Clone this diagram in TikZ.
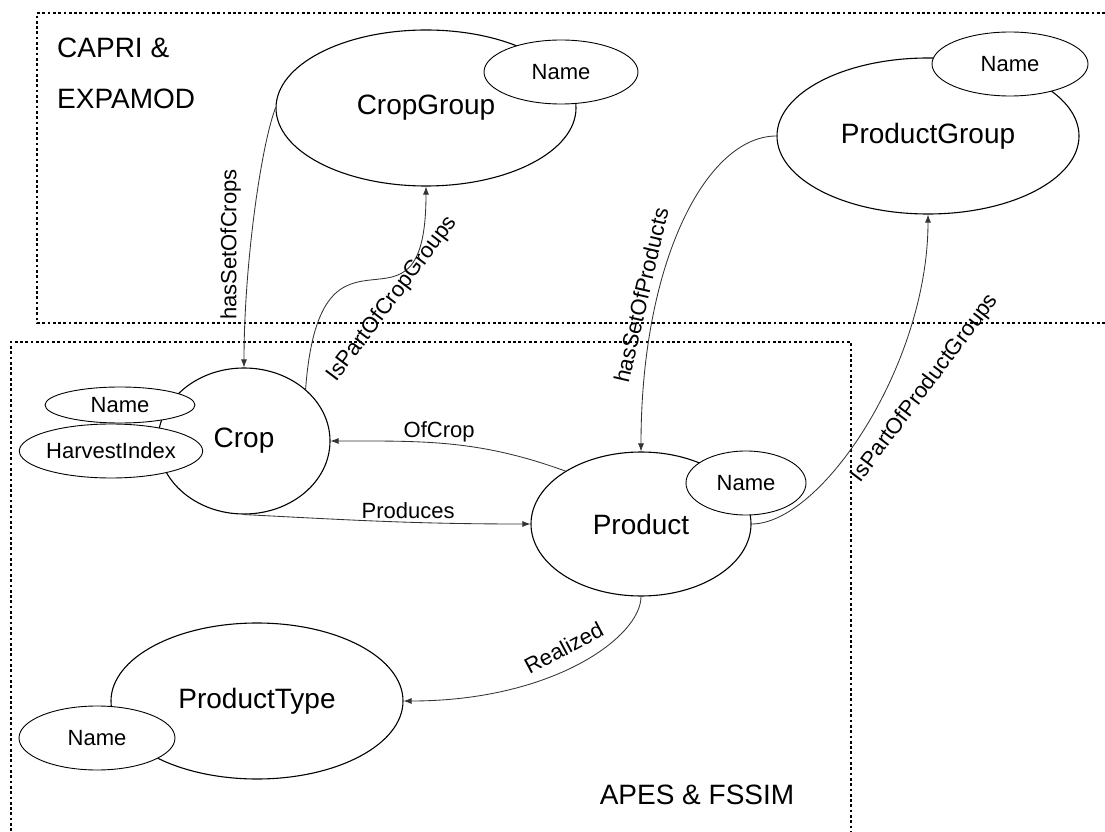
\documentclass[tikz,border=0pt]{standalone}
\usepackage{fontspec}
\setmainfont{Liberation Sans}
\usetikzlibrary{shapes.geometric,arrows.meta}
\tikzset{
  entity/.style={draw,ellipse,fill=white,line width=1.1pt,inner sep=0pt,
    font=\fontsize{28}{32}\selectfont},
  attr/.style={draw,ellipse,fill=white,line width=0.9pt,inner sep=1pt,
    font=\fontsize{22}{26}\selectfont},
  rel/.style={->,line width=0.85pt,draw=black!80},
  region/.style={line width=2.7pt,dash pattern=on 2.7pt off 2.6pt},
  >={Latex[length=8pt,width=6pt]},
}

\begin{document}
\begin{tikzpicture}[
  x=1pt,y=1pt,
  every node/.style={font=\fontsize{22}{26}\selectfont}
]
\useasboundingbox (0,0) rectangle (1105,831);

\draw[region] (1105,818) -- (37,818) -- (37,508) -- (1105,508);
\draw[region] (11,0) -- (11,489) -- (851,489) -- (851,0);

\node[anchor=west,align=left,inner sep=0pt,font=\fontsize{28}{51}\selectfont] (capri) at (57,758) {CAPRI \&\\EXPAMOD};
\node[font=\fontsize{28}{32}\selectfont] (apes) at (697,36) {APES \& FSSIM};

\node[entity,minimum width=300pt,minimum height=156pt] (cropgroup) at (426,723) {CropGroup};
\node[attr,minimum width=154pt,minimum height=64pt] (cgname) at (561,759) {Name};

\node[entity,minimum width=302pt,minimum height=156pt] (productgroup) at (928,695) {ProductGroup};
\node[attr,minimum width=156pt,minimum height=64pt] (pgname) at (1010,767) {Name};

\node[entity,minimum width=172pt,minimum height=146pt] (crop) at (244,390) {Crop};
\node[attr,minimum width=150pt,minimum height=36pt] (cropname) at (120,426) {Name};
\node[attr,inner xsep=0pt,minimum width=180pt,minimum height=54pt] (harvest) at (111,380) {HarvestIndex};

\node[entity,minimum width=220pt,minimum height=144pt] (product) at (641,307) {Product};
\node[attr,minimum width=120pt,minimum height=64pt] (prodname) at (746,348) {Name};

\node[entity,minimum width=292pt,minimum height=156pt] (producttype) at (257,130) {ProductType};
\node[attr,minimum width=156pt,minimum height=64pt] (ptname) at (97,93) {Name};

\draw[rel] (cropgroup.west) .. controls +(-15,-40) and +(0,100) .. (crop.north)
  node[pos=0.6,xshift=-20pt,rotate=90] {hasSetOfCrops};
\draw[rel] (crop.40) .. controls +(15,199) and +(0,-175) .. (cropgroup.south)
  node[pos=0.5,xshift=21pt,yshift=-20pt,rotate=53] {IsPartOfCropGroups};
\draw[rel] (productgroup.west) .. controls +(-70,0) and +(0,190) .. (product.north)
  node[pos=0.69,xshift=-17pt,rotate=77] {hasSetOfProducts};
\draw[rel] (product.east) .. controls +(70,0) and +(0,-150) .. (productgroup.south)
  node[pos=0.6,xshift=39pt,rotate=53] {IsPartOfProductGroups};
\draw[rel] (product.145) to[out=160,in=0] node[pos=0.55,above,inner sep=1pt] {OfCrop} (crop.east);
\draw[rel] (crop.south) to[out=-3,in=180] node[pos=0.58,above,inner sep=3pt] {Produces} (product.west);
\draw[rel] (product.south) .. controls +(0,-40) and +(150,0) .. (producttype.east)
  node[pos=0.55,xshift=-2pt,yshift=22pt,rotate=28] {Realized};

\end{tikzpicture}
\end{document}
